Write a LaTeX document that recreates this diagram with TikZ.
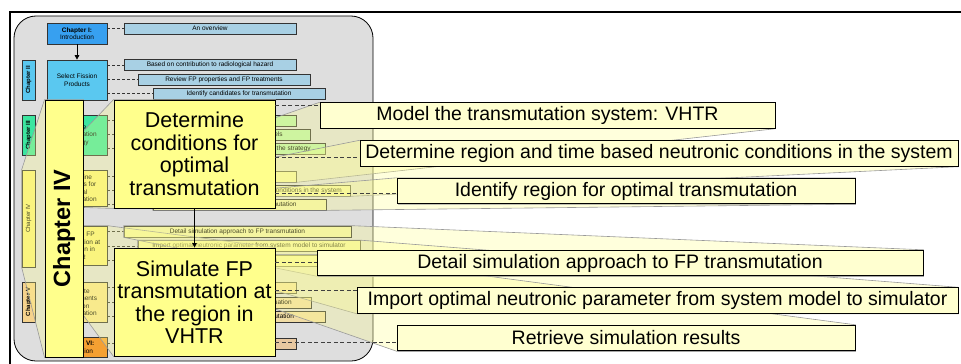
\documentclass[tikz,border=0pt]{standalone}
\usepackage{fontspec}
\setmainfont{Liberation Sans}
\usepackage{graphicx}
\usetikzlibrary{arrows.meta,shadows}

\definecolor{bggray}{RGB}{222,222,222}
\definecolor{blueone}{RGB}{55,160,240}
\definecolor{bluetwo}{RGB}{90,200,240}
\definecolor{bluesub}{RGB}{168,208,228}
\definecolor{greenthree}{RGB}{60,230,160}
\definecolor{greensub}{RGB}{185,240,170}
\definecolor{yellowfour}{RGB}{248,240,120}
\definecolor{yellowsub}{RGB}{240,240,170}
\definecolor{tanfive}{RGB}{245,210,140}
\definecolor{yellowfive}{RGB}{245,225,140}
\definecolor{tansub}{RGB}{240,220,165}
\definecolor{orangesix}{RGB}{245,160,50}
\definecolor{tansix}{RGB}{232,200,160}
\definecolor{zoomyellow}{RGB}{255,255,140}
\definecolor{notecolor}{RGB}{255,255,208}

\pgfdeclarelayer{back}
\pgfdeclarelayer{fan}
\pgfsetlayers{back,fan,main}

\tikzset{
  smallbox/.style={draw=black!80, line width=0.7pt, inner sep=0pt, align=center,
    font=\fontsize{6.5}{7.5}\selectfont},
  mainbox/.style={smallbox, minimum width=60pt},
  subbox/.style={smallbox, minimum height=11pt},
  chaplabel/.style={smallbox, minimum width=13pt, font=\fontsize{6}{7}\selectfont\bfseries},
  bigbox/.style={draw=black, line width=0.9pt, fill=zoomyellow, inner sep=0pt, align=center,
    minimum width=161pt, minimum height=108pt, font=\fontsize{21.5}{22.5}\selectfont},
  notebox/.style={draw=black, line width=0.9pt, fill=notecolor, inner sep=0pt,
    minimum height=25.5pt, font=\fontsize{19.5}{20}\selectfont,
    drop shadow={shadow xshift=1.2pt, shadow yshift=-1.2pt, fill=black!40, opacity=0.6}},
  zoomfan/.style={fill=zoomyellow, fill opacity=0.3, draw=black!40, line width=0.6pt},
  smalldash/.style={dash pattern=on 3pt off 2pt, line width=0.8pt, black!80},
  bigdash/.style={dash pattern=on 4pt off 2.5pt, line width=1pt, black!75},
  smallarrow/.style={-{Triangle[length=4.5pt,width=4.5pt]}, line width=0.8pt},
}

\begin{document}
\begin{tikzpicture}[x=1pt, y=-1pt]
  \useasboundingbox (0,0) rectangle (961,364);

  \begin{pgfonlayer}{back}
    % frame and thesis outline
    \draw[line width=2pt] (10,364) -- (10,12) -- (961,12);
    \draw[fill=bggray, line width=0.8pt, rounded corners=22pt] (14,16) rectangle (373,361);

    % chapter I
    \node[mainbox, fill=blueone, minimum height=21pt] (intro) at (77,33.5) {\textbf{Chapter I:}\\Introduction};
    \node[subbox, fill=bluesub, minimum width=172pt] (overview) at (210,28.5) {An overview};
    \draw[smalldash] (intro.east |- overview.west) -- (overview.west);

    % chapter II
    \node[chaplabel, fill=bluetwo, minimum height=40pt] (labtwo) at (28.5,80) {\rotatebox{90}{Chapter II}};
    \node[mainbox, fill=bluetwo, minimum height=40pt] (select) at (77,80) {Select Fission\\Products};
    \node[subbox, fill=bluesub, minimum width=172pt] (hazard) at (210,65) {Based on contribution to radiological hazard};
    \node[subbox, fill=bluesub, minimum width=172pt] (review) at (224,79.5) {Review FP properties and FP treatments};
    \node[subbox, fill=bluesub, minimum width=172pt] (cand) at (239,93.5) {Identify candidates for transmutation};
    \foreach \s in {hazard,review,cand}
      \draw[smalldash] (select.east |- \s.west) -- (\s.west);

    % chapter III
    \node[chaplabel, fill=greenthree, minimum height=40pt] (labthree) at (28.5,135) {\rotatebox{90}{Chapter III}};
    \node[mainbox, fill=greenthree, minimum height=40pt] (strategy) at (77,135) {Define\\transmutation\\strategy};
    \node[subbox, fill=greensub, minimum width=172pt] (options) at (210,120.5) {Review transmutation options};
    \node[subbox, fill=greensub, minimum width=172pt] (reactors) at (224,134.5) {Discuss transmutation reactors and fuels};
    \node[subbox, fill=greensub, minimum width=172pt] (choice) at (239,148.5) {Choose reactor and target options for the strategy};
    \foreach \s in {options,reactors,choice}
      \draw[smalldash] (strategy.east |- \s.west) -- (\s.west);

    % chapter IV
    \node[smallbox, fill=yellowfour, minimum width=13pt, minimum height=97pt, font=\fontsize{6}{7}\selectfont] (labfour) at (28.5,218.5) {\rotatebox{90}{Chapter IV}};
    \node[mainbox, fill=yellowfour, minimum height=36pt] (detsmall) at (77,188) {Determine\\conditions for\\optimal\\transmutation};
    \node[mainbox, fill=yellowfour, minimum height=39pt] (simsmall) at (77,245.5) {Simulate FP\\transmutation at\\the region in\\VHTR};
    \node[subbox, fill=yellowsub, minimum width=172pt] (modelsmall) at (210,176.5) {Model the transmutation system: VHTR};
    \node[subbox, fill=yellowsub, minimum width=212pt] (regionsmall) at (244,190.5) {Determine region and time based neutronic conditions in the system};
    \node[subbox, fill=yellowsub, minimum width=173pt] (identsmall) at (239.5,204.5) {Identify region for optimal transmutation};
    \node[subbox, fill=yellowsub, minimum width=227pt] (detailsmall) at (237.5,231.5) {Detail simulation approach to FP transmutation};
    \node[subbox, fill=yellowsub, minimum width=222pt] (importsmall) at (249,246) {Import optimal neutronic parameter from system model to simulator};
    \node[subbox, fill=yellowsub, minimum width=172pt] (retrsmall) at (239,260.5) {Retrieve simulation results};
    \foreach \s in {modelsmall,regionsmall,identsmall}
      \draw[smalldash] (detsmall.east |- \s.west) -- (\s.west);
    \foreach \s in {detailsmall,importsmall,retrsmall}
      \draw[smalldash] (simsmall.east |- \s.west) -- (\s.west);

    % chapter V
    \node[chaplabel, fill=tanfive, minimum height=40pt] (labfive) at (28.5,302) {\rotatebox{90}{Chapter V}};
    \node[mainbox, fill=yellowfive, minimum height=40pt] (evaluate) at (77,302) {Evaluate\\achievements\\in region\\transmutation};
    \node[subbox, fill=tansub, minimum width=172pt] (analyse) at (210,287.5) {Analyse the simulation results};
    \node[subbox, fill=tansub, minimum width=173pt] (discuss) at (224.5,302.5) {Discuss results of the transmutation evaluation};
    \node[subbox, fill=tansub, minimum width=172pt] (feasible) at (239,316.5) {Discuss feasibility of FP transmutation};
    \foreach \s in {analyse,discuss,feasible}
      \draw[smalldash] (evaluate.east |- \s.west) -- (\s.west);

    % chapter VI
    \node[mainbox, fill=orangesix, minimum height=20pt] (concl) at (77,347) {\textbf{Chapter VI:}\\Conclusion};
    \node[subbox, fill=tansix, minimum width=172pt] (outlook) at (210,343.5) {Conclusions and outlook};
    \draw[smalldash] (concl.east |- outlook.west) -- (outlook.west);

    \draw[smallarrow] (intro) -- (select);
    \draw[smallarrow] (select) -- (strategy);
    \draw[smallarrow] (strategy) -- (detsmall);
    \draw[smallarrow] (detsmall) -- (simsmall);
    \draw[smallarrow] (simsmall) -- (evaluate);
    \draw[smallarrow] (evaluate) -- (concl);
  \end{pgfonlayer}

  % zoomed chapter IV
  \node[bigbox, minimum width=38pt, minimum height=257pt, font=\fontsize{23.5}{24}\selectfont\bfseries] (chapfour) at (64,228.5) {\rotatebox{90}{Chapter IV}};
  \node[bigbox] (determine) at (194.5,154) {Determine\\conditions for\\optimal\\transmutation};
  \node[bigbox] (simulate) at (194.5,302) {Simulate FP\\transmutation at\\the region in\\VHTR};
  \draw[smallarrow] (determine) -- (simulate);

  \node[notebox, minimum width=455pt] (model) at (547.5,115.5) {Model the transmutation system: VHTR};
  \node[notebox, minimum width=598pt] (region) at (659,153.5) {Determine region and time based neutronic conditions in the system};
  \node[notebox, minimum width=458pt] (ident) at (626,191) {Identify region for optimal transmutation};
  \node[notebox, minimum width=606pt] (detail) at (620,263) {Detail simulation approach to FP transmutation};
  \node[notebox, minimum width=601pt] (import) at (657.5,300.5) {Import optimal neutronic parameter from system model to simulator};
  \node[notebox, minimum width=458pt] (retrieve) at (626,338) {Retrieve simulation results};

  \draw[bigdash] (determine.east |- 0,105) -- (model.west |- 0,105);
  \draw[bigdash] (determine.east |- 0,157) -- (region.west |- 0,157);
  \draw[bigdash] (determine.east |- 0,193) -- (ident.west |- 0,193);
  \draw[bigdash] (simulate.east |- 0,262) -- (detail.west |- 0,262);
  \draw[bigdash] (simulate.east |- 0,290) -- (import.west |- 0,290);
  \draw[bigdash] (simulate.east |- 0,342) -- (retrieve.west |- 0,342);

  % zoom fans
  \begin{pgfonlayer}{fan}
    \path[zoomfan] (labfour.north west) -- (chapfour.north west) -- (chapfour.north east) -- (chapfour.south east) -- (chapfour.south west) -- (labfour.south west) -- cycle;
    \path[zoomfan] (detsmall.north west) -- (determine.north west) -- (determine.north east) -- (determine.south east) -- (determine.south west) -- (detsmall.south west) -- cycle;
    \path[zoomfan] (simsmall.north west) -- (simsmall.north east) -- (simulate.north east) -- (simulate.south east) -- (simulate.south west) -- (simsmall.south west) -- cycle;
    \path[zoomfan] (modelsmall.north west) -- (model.north west) -- (model.north east) -- (model.south east) -- (modelsmall.south east) -- (modelsmall.south west) -- cycle;
    \path[zoomfan] (regionsmall.north west) -- (region.north west) -- (region.north east) -- (region.south east) -- (regionsmall.south east) -- (regionsmall.south west) -- cycle;
    \path[zoomfan] (identsmall.north west) -- (ident.north west) -- (ident.north east) -- (ident.south east) -- (identsmall.south east) -- (identsmall.south west) -- cycle;
    \path[zoomfan] (detailsmall.north west) -- (detailsmall.north east) -- (detail.north east) -- (detail.south east) -- (detail.south west) -- (detailsmall.south west) -- cycle;
    \path[zoomfan] (importsmall.north west) -- (importsmall.north east) -- (import.north east) -- (import.south east) -- (import.south west) -- (importsmall.south west) -- cycle;
    \path[zoomfan] (retrsmall.north west) -- (retrsmall.north east) -- (retrieve.north east) -- (retrieve.south east) -- (retrieve.south west) -- (retrsmall.south west) -- cycle;
  \end{pgfonlayer}
\end{tikzpicture}
\end{document}
